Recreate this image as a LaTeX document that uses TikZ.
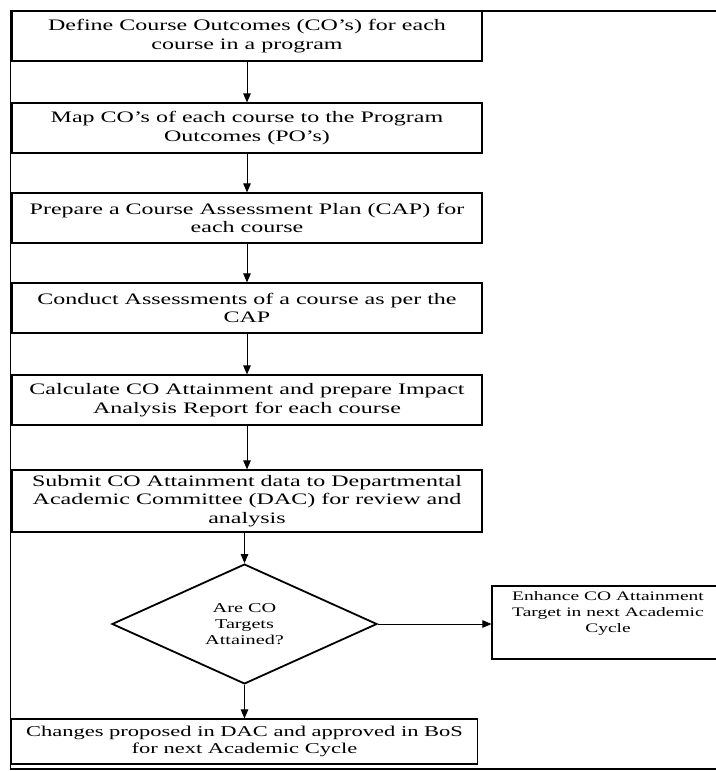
\documentclass[tikz,border=0pt]{standalone}
\usepackage{fontspec}
\setmainfont{Liberation Serif}[FakeStretch=1.5]
\usetikzlibrary{shapes.geometric,arrows.meta}

\begin{document}
\begin{tikzpicture}[x=1pt, y=-1pt, node distance=91pt,
    stepbox/.style={draw, line width=1.2pt, minimum width=470pt, minimum height=50pt, inner sep=0pt, align=center, font=\fontsize{16}{18.5}\selectfont},
    decision/.style={draw, diamond, line width=1.8pt, minimum width=265pt, minimum height=105pt, inner sep=0pt, align=center, font=\fontsize{13.5}{16}\selectfont},
    sidebox/.style={draw, line width=1.2pt, minimum width=232pt, minimum height=73pt, inner sep=0pt, align=center, font=\fontsize{13}{16}\selectfont},
    flow/.style={-{Triangle[length=9pt, width=7.5pt]}, line width=1pt}]
      \useasboundingbox (0,0) rectangle (715,771);

      % Outer frame
      \draw[line width=1.2pt] (720,11) -| (10.5,769) -- (720,769);

      % Nodes
      \node[stepbox] (define) at (247,36) {Define Course Outcomes (CO's) for each\\course in a program};
      \node[stepbox, below of=define, yshift=-1pt] (map) {Map CO's of each course to the Program\\Outcomes (PO's)};
      \node[stepbox, below of=map, yshift=1pt] (prepare) {Prepare a Course Assessment Plan (CAP) for\\each course};
      \node[stepbox, below of=prepare, yshift=1pt] (conduct) {Conduct Assessments of a course as per the\\CAP};
      \node[stepbox, below of=conduct, yshift=-1pt] (calculate) {Calculate CO Attainment and prepare Impact\\Analysis Report for each course};
      \node[stepbox, below of=calculate, yshift=-10pt, minimum height=62pt] (submit) {Submit CO Attainment data to Departmental\\Academic Committee (DAC) for review and\\analysis};
      \node[decision, below of=submit, yshift=-32pt, xshift=-2.5pt] (attained) {Are CO\\Targets\\Attained?};
      \node[stepbox, below of=attained, yshift=-26.5pt, minimum width=466pt, minimum height=45pt, font=\fontsize{15}{17}\selectfont] (changes) {Changes proposed in DAC and approved in BoS\\for next Academic Cycle};
      \node[sidebox, right of=attained, xshift=272.5pt, yshift=1.5pt] (enhance) {Enhance CO Attainment\\Target in next Academic\\Cycle\\ \strut};

      % Connections
      \draw[flow] (define) -- (map);
      \draw[flow] (map) -- (prepare);
      \draw[flow] (prepare) -- (conduct);
      \draw[flow] (conduct) -- (calculate);
      \draw[flow] (calculate) -- (submit);
      \draw[flow] (submit.south -| attained.north) -- (attained.north);
      \draw[flow] (attained.south) -- (attained.south |- changes.north);
      \draw[flow] (attained.east) -- (attained.east -| enhance.west);
    \end{tikzpicture}
\end{document}
